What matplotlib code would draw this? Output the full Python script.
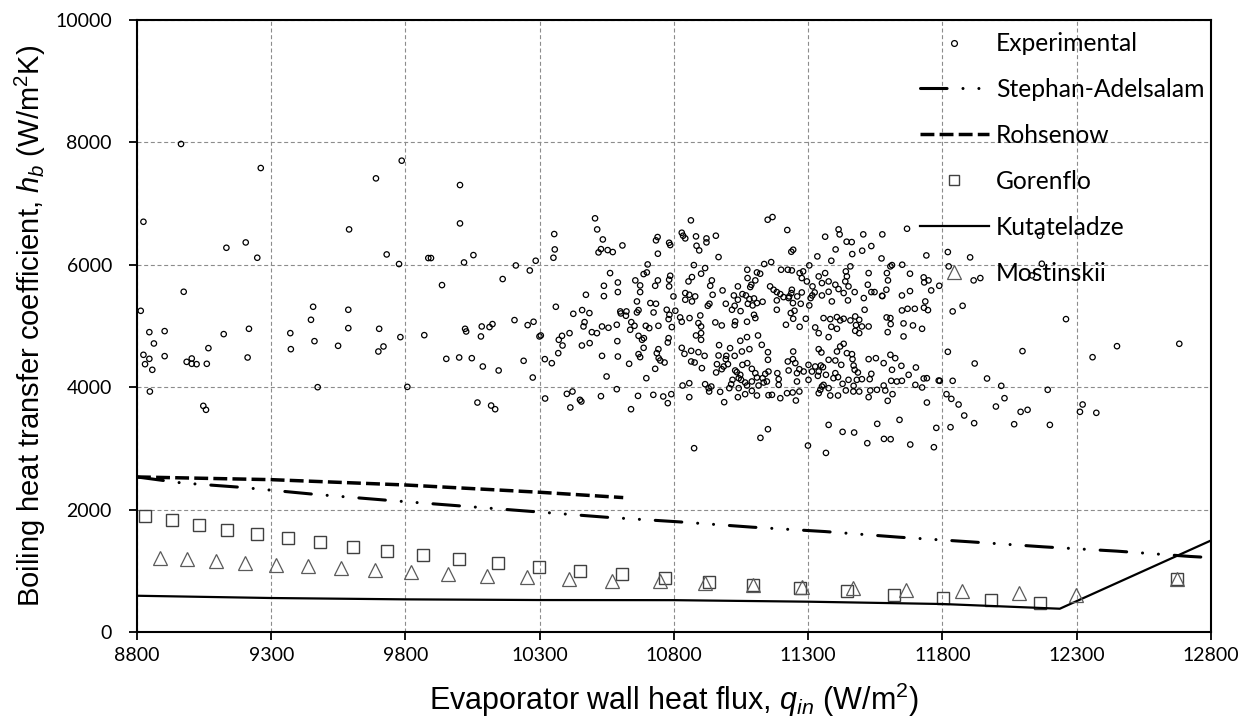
import matplotlib
matplotlib.use('Agg')
import matplotlib.pyplot as plt
from matplotlib.lines import Line2D

plt.rcParams['mathtext.fontset'] = 'custom'
plt.rcParams['mathtext.rm'] = 'Liberation Sans'
plt.rcParams['mathtext.it'] = 'Liberation Sans:italic'

# ---------------- data ----------------
x_ticks = [8800, 9300, 9800, 10300, 10800, 11300, 11800, 12300, 12800]
y_ticks = [0, 2000, 4000, 6000, 8000, 10000]

# Experimental points (q_in, h_b)
exp_points = [
    (8964,7974),(9261,7581),(9690,7412),(8824,6703),(9133,6278),(9205,6365),(9248,6115),(9590,6578),(8974,5559),
    (8814,5248),(9456,5314),(9587,5265),(9448,5101),
    (9786,7701),(10003,7303),(10003,6676),(9730,6169),(9776,6012),(9885,6110),(9895,6110),(9936,5668),(10018,6038),
    (10053,6158),(10162,5767),(10211,5989),(10263,5907),(10285,6066),(10354,6502),(10356,6251),(10351,6115),
    (10360,5314),(10425,5199),(10458,5260),(10485,5211),(10472,5510),(10506,6759),(10514,6578),(10535,6414),
    (10528,6256),(10519,6202),(10553,6240),(10572,6208),(10608,6316),(10562,5864),(10539,5657),(10539,5488),
    (10591,5711),(10591,5554),(10600,5238),(10623,5238),(10602,5205),(10621,5167),(10641,5063),(10656,5745),
    (10674,5663),(10674,5554),(10662,5401),(10668,5259),(10662,5221),(10687,5848),(10699,5875),(10702,6006),
    (10712,5374),(10733,5363),(10724,5221),(10730,5657),(10740,5745),(10733,6399),(10739,6453),(10740,6181),
    (10695,5003),(10532,4992),(10556,4971),(10587,5020),(10467,5063),(10463,4992),(10206,5096),(10255,5014),
    (10277,5069),(10084,4992),(10113,4982),(10124,5031),(10022,4954),(9702,4954),
    (10863,6726),(11149,6736),(11167,6780),(11222,6568),(11413,6578),(11417,6497),(11363,6459),(11668,6589),
    (11505,6497),(11576,6497),(10782,6360),(10786,6322),(10829,6524),(10834,6475),(10842,6431),(10882,6464),
    (10921,6431),(10921,6366),(10956,6475),(10884,6311),(10894,6235),(10966,6126),(10874,5995),(10916,5946),
    (10901,5854),(10867,5799),(10854,5728),(10786,5821),(10782,5756),(10782,5647),(11136,6012),(11162,6044),
    (11237,6213),(11244,6246),(11199,5919),(11224,5919),(11239,5908),(11268,5864),(11281,5892),(11304,5990),
    (11334,6137),(11386,6066),(11402,6251),(11443,6377),(11462,6371),(11464,6175),(11501,6230),(11535,6306),
    (11573,6104),(11650,6001),(11679,5854),(11740,6153),(11073,5919),(11109,5875),(11121,5854),(11074,5783),
    (11103,5745),(11088,5674),(11084,5636),(11038,5647),(10981,5581),(10941,5745),(10935,5657),(10944,5510),
    (11158,5647),(11171,5592),(11183,5554),(11196,5521),(11239,5592),(11237,5538),(11229,5483),(11276,5783),
    (11276,5548),(11295,5728),(11316,5647),(11339,5810),(11351,5701),(11363,5864),(11376,5728),(11401,5674),
    (11413,5603),(11440,5892),(11444,5810),(11457,5974),(11450,5647),(11432,5538),(11473,5554),(11438,5728),
    (11525,5864),(11522,5674),(11535,5554),(11547,5554),(11507,5456),(11593,5864),(11606,5974),(11612,5995),
    (11597,5745),(11575,5494),(11591,5592),(11649,5499),(11679,5570),(11730,5794),(11732,5712),(11748,5745),
    (11758,5581),(11788,5657),(11023,5499),(11038,5429),(11055,5521),(11068,5499),(11081,5439),(11098,5450),
    (11109,5374),(11130,5396),(11075,5363),(11093,5336),(11026,5330),(11016,5265),(11048,5243),(10993,5363),
    (11183,5418),(11208,5472),(11227,5456),(11243,5374),(11259,5483),(11272,5363),(11309,5456),(11315,5499),
    (11324,5548),(11304,5336),(11351,5499),(11376,5559),(11388,5401),(11448,5418),(11510,5265),(11576,5488),
    (11649,5254),(11670,5281),(11697,5281),(11731,5298),(11736,5401),(11746,5259),(11235,5211),(11249,5249),
    (11183,5265),(10842,5538),(10857,5510),(10879,5483),(10867,5401),(10842,5429),(10798,5483),(10773,5265),
    (10783,5183),(10805,5249),(10823,5140),(10858,5129),(10898,5172),(10829,5069),(10780,5112),(10792,4982),
    (10742,5003),(10891,5047),(10901,4992),(10954,5058),(10978,5009),(11028,5074),(11072,5069),(11103,5129),
    (11098,5183),(11026,5014),(11217,5020),(11244,5118),(11268,4987),(11291,5118),(11326,4976),(11357,5129),
    (11382,5112),(11407,5145),(11419,5091),(11432,5118),(11457,5091),(11475,5156),(11490,5101),(11478,5014),
    (11500,4992),(11525,4992),(11592,5140),(11606,5129),(11607,5031),(11655,5042),(11690,5009),(11724,4954),
    (11386,4987),(11407,4954),(10932,5363),(10926,5330),
    (10780,4801),(10777,4730),(10882,4845),(10901,4883),(10901,4774),(10749,4436),(10765,4403),(10742,4621),
    (10829,4643),(10839,4545),(10864,4594),(10864,4420),(10877,4403),(10891,4572),(10914,4512),(10904,4311),
    (10968,4687),(10966,4518),(10995,4512),(11009,4638),(11001,4376),(10993,4458),(10960,4376),(10957,4240),
    (10985,4338),(10978,4294),(11028,4273),(11034,4245),(11026,4512),(11047,4758),(11053,4583),(11055,4365),
    (11047,4202),(11072,4818),(11081,4621),(11073,4393),(11090,4300),(11103,4229),(11113,4845),(11127,4692),
    (11150,4572),(11150,4447),(11152,4256),(11140,4218),(11130,4147),(11109,4158),(11090,4093),(11065,4076),
    (11050,4120),(11041,4147),(11018,4120),(11013,4049),(11041,3984),(11006,3984),(11038,3837),(11065,3886),
    (11090,3940),(11115,4027),(11134,4076),(11146,4093),(11185,4229),(11190,4131),(11190,4038),(11224,4420),
    (11244,4583),(11243,4458),(11252,4393),(11227,4273),(11258,4229),(11258,4093),(11267,4294),(11283,4256),
    (11301,4365),(11314,4256),(11301,4120),(11326,4338),(11339,4621),(11349,4567),(11339,4256),(11347,4354),
    (11336,4185),(11355,4327),(11366,4202),(11376,4447),(11401,4436),(11407,4583),(11419,4665),(11432,4709),
    (11444,4556),(11463,4540),(11423,4365),(11401,4229),(11394,4147),(11411,4164),(11428,4055),(11450,4120),
    (11465,4458),(11469,4354),(11473,4284),(11485,4240),(11481,4120),(11500,4131),(11525,4458),(11552,4474),
    (11581,4393),(11606,4529),(11624,4474),(11612,4284),(11647,4349),(11674,4202),(11701,4322),(11535,4218),
    (11529,4131),(10832,4027),(10857,4065),(10916,4049),(10929,3984),(10931,3929),(10939,4011),(10972,3924),
    (10987,3755),(11072,4027),(11109,3864),(11152,3869),(11165,3875),(11196,3820),(11221,3902),(11242,3913),
    (11254,3782),(11267,3929),(11339,3902),(11345,3957),(11351,4011),(11357,4038),(11376,3984),(11382,3864),
    (11411,3864),(11440,3946),(11469,4022),(11468,3929),(11490,3929),(11531,3946),(11525,3837),(11556,3957),
    (11581,4027),(11587,3946),(11596,3777),(11614,3886),(11609,4104),(11630,4093),(11649,4104),(11699,4038),
    (11724,3995),(11730,4142),(11742,4147),(11786,4109),(11742,3749),(10760,3848),(10790,3886),(10857,3837),
    (10777,3739),(10875,3003),(11122,3172),(11150,3313),(11299,3046),(11366,2926),(11376,3384),(11428,3270),
    (11471,3259),(11520,3085),(11557,3401),(11582,3155),(11607,3150),(11640,3466),(11680,3063),(11768,3019),
    (11777,3335),(11655,4829),(11596,4899),(11490,4883),(11475,4921),(11339,4883),(11376,4818),
    (12163,6475),(11820,6208),(11903,6121),(11823,5974),(12170,6017),(12133,5826),(11916,5745),(11941,5783),
    (11838,5238),(11875,5330),(12260,5112),
    (11820,4578),(12098,4589),(11920,4387),(11966,4142),(11790,4104),(11838,4104),(12019,4022),(12192,3957),
    (11815,3886),(11833,3809),(11860,3717),(11881,3537),(11918,3412),(11999,3684),(12031,3820),(12091,3597),
    (12117,3630),(12067,3395),(12200,3384),(11830,3346),(12359,4490),(12450,4670),(12682,4709),(12322,3717),
    (12312,3597),(12373,3581),
    (8846,4899),(8903,4916),(8863,4714),(8824,4529),(8846,4463),(8830,4376),(8857,4284),(8903,4507),(8848,3929),
    (8985,4414),(9004,4469),(9004,4382),(9022,4376),(9060,4382),(9066,4638),(9123,4867),(9217,4954),(9212,4485),
    (9047,3695),(9057,3630),(9371,4883),(9373,4621),(9461,4752),(9549,4676),(9587,4965),(9473,4000),
    (9699,4583),(9718,4665),(9781,4818),(9870,4850),(9807,4005),(9952,4463),(10000,4485),(10047,4474),
    (10088,4338),(10147,4273),(10081,4829),(10026,4910),(10240,4431),(10274,4158),(10299,4829),(10304,4845),
    (10319,4458),(10345,4392),(10369,4556),(10371,4774),(10383,4839),(10385,4681),(10411,4883),(10457,4681),
    (10486,4720),(10494,4899),(10513,4883),(10589,4752),(10591,4501),(10532,4512),(10549,4175),(10633,4382),
    (10668,4540),(10674,4491),(10668,4839),(10681,4774),(10688,4801),(10687,4643),(10637,4938),(10653,5003),
    (10708,4965),(10736,4556),(10743,4474),(10730,4300),(10697,4147),(10587,3967),(10528,3853),(10666,3858),
    (10723,3875),(10640,3640),(10401,3891),(10422,3929),(10450,3793),(10455,3766),(10414,3668),(10320,3815),
    (10068,3749),(10119,3700),(10134,3640),
]
exp_q = [p[0] for p in exp_points]
exp_h = [p[1] for p in exp_points]

# Stephan-Adelsalam correlation
sa_q = [8800, 8967, 9187, 9460, 9733, 10003, 10277, 10547, 10820, 11093, 11362, 11638, 11904, 12177, 12450, 12723, 12800]
sa_h = [2533, 2435, 2364, 2250, 2152, 2060, 1967, 1875, 1799, 1712, 1641, 1549, 1473, 1391, 1321, 1234, 1215]

# Rohsenow correlation
ro_q = [8800, 9300, 9800, 10300, 10611]
ro_h = [2533, 2489, 2402, 2283, 2196]

# Gorenflo correlation
go_q = [8831, 8929, 9031, 9137, 9248, 9363, 9483, 9605, 9733, 9864, 10000, 10143, 10299, 10449, 10605,
        10767, 10930, 11095, 11268, 11444, 11620, 11801, 11982, 12164, 12673]
go_h = [1897, 1826, 1745, 1674, 1609, 1533, 1468, 1391, 1326, 1256, 1185, 1120, 1054, 989, 940,
        875, 815, 766, 717, 663, 609, 560, 516, 478, 859]

# Kutateladze correlation
ku_q = [8800, 9300, 9800, 10300, 10800, 11300, 11800, 12237, 12800]
ku_h = [592, 555, 533, 522, 520, 495, 457, 380, 1495]

# Mostinskii correlation
mo_q = [8885, 8987, 9093, 9203, 9319, 9436, 9560, 9688, 9821, 9959, 10103, 10253, 10408, 10568,
        10749, 10917, 11093, 11275, 11468, 11666, 11871, 12084, 12299, 12673]
mo_h = [1212, 1185, 1152, 1125, 1098, 1071, 1038, 1005, 978, 946, 918, 891, 864, 837,
        832, 804, 766, 739, 717, 690, 663, 630, 603, 859]

labels = ['Experimental', 'Stephan-Adelsalam', 'Rohsenow', 'Gorenflo', 'Kutateladze', 'Mostinskii']

# ---------------- figure ----------------
fig = plt.figure(figsize=(12.51, 7.24), dpi=100)
ax = fig.add_axes([0.1095, 0.1271, 0.8585, 0.8453])

sa_style = (0, (8.7, 5.2, 0.01, 5.2, 0.01, 5.2))
ro_style = (0, (4.0, 1.5))

ax.scatter(exp_q, exp_h, s=15, facecolors='none', edgecolors='black', linewidths=0.9, zorder=4)
ax.plot(sa_q, sa_h, color='black', lw=2.2, linestyle=sa_style, dash_capstyle='round', zorder=3)
ax.plot(ro_q, ro_h, color='black', lw=2.5, linestyle=ro_style, zorder=3)
ax.plot(go_q, go_h, linestyle='none', marker='s', ms=8, mfc='none', mec='#404040', mew=1.0, zorder=3)
ax.plot(ku_q, ku_h, color='black', lw=1.6, zorder=3)
ax.plot(mo_q, mo_h, linestyle='none', marker='^', ms=10, mfc='none', mec='#5a5a5a', mew=0.9, zorder=3)

ax.set_xlim(8800, 12800)
ax.set_ylim(0, 10000)
ax.set_xticks(x_ticks)
ax.set_yticks(y_ticks)
ax.grid(True, color='#8c8c8c', linestyle=(0, (3.6, 2.4)), linewidth=0.8)
ax.set_axisbelow(True)

for sp in ax.spines.values():
    sp.set_linewidth(1.5)
    sp.set_color('black')
ax.tick_params(direction='out', length=6, width=1.3, labelsize=14)
ax.tick_params(axis='y', pad=12)
ax.tick_params(axis='x', pad=5)
for lab in ax.get_xticklabels() + ax.get_yticklabels():
    lab.set_fontfamily('Lato')

ax.set_xlabel('Evaporator wall heat flux, $q_{in}$ (W/m$^2$)', fontsize=22, family='Liberation Sans')
ax.set_ylabel('Boiling heat transfer coefficient, $h_b$ (W/m$^2$K)', fontsize=21, family='Liberation Sans')
ax.xaxis.set_label_coords(0.5, -0.111)
ax.xaxis.label.set_va('center')
ax.yaxis.set_label_coords(-0.0996, 0.5)
ax.yaxis.label.set_va('center')

handles = [
    Line2D([], [], linestyle='none', marker='o', ms=4.2, mfc='none', mec='black', mew=0.9),
    Line2D([], [], color='black', lw=2.2, linestyle=sa_style, dash_capstyle='round'),
    Line2D([], [], color='black', lw=2.5, linestyle=ro_style),
    Line2D([], [], linestyle='none', marker='s', ms=7, mfc='none', mec='#404040', mew=1.0),
    Line2D([], [], color='black', lw=1.6),
    Line2D([], [], linestyle='none', marker='^', ms=10, mfc='none', mec='#5a5a5a', mew=0.9),
]
ax.legend(handles, labels, loc='upper left', bbox_to_anchor=(0.729, 0.980), frameon=False,
          prop={'family': 'Lato', 'size': 17.7}, handlelength=2.8, handletextpad=0.3,
          labelspacing=0.93, borderpad=0, borderaxespad=0)

fig.savefig('out.png', dpi=100)
